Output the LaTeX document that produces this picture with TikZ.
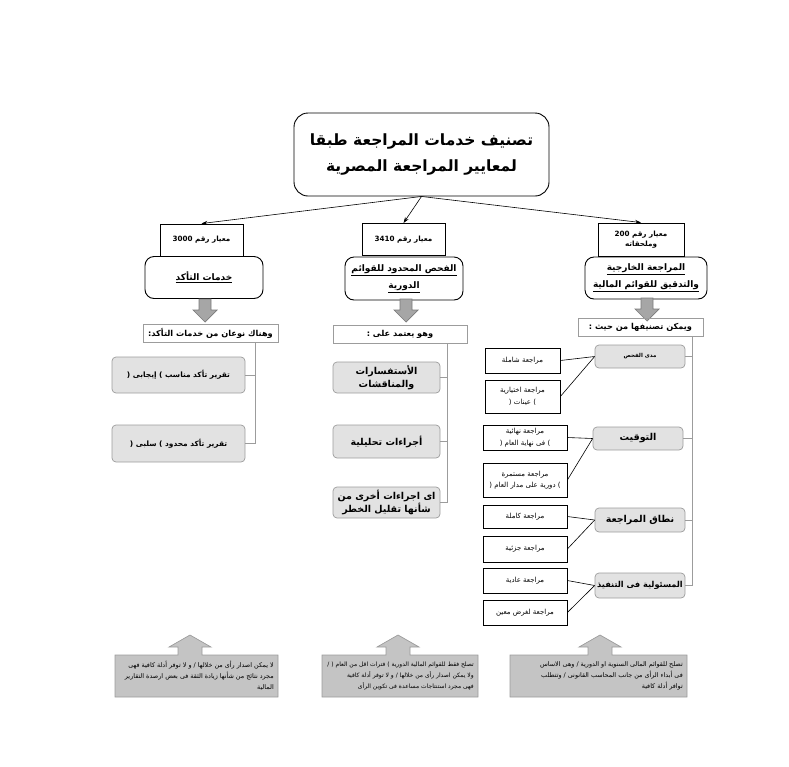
\documentclass[tikz,border=0pt]{standalone}
\usepackage{fontspec}
\newfontfamily\arabicfont[Script=Arabic]{DejaVu Sans}
\TeXXeTstate=1
\usetikzlibrary{arrows.meta}
\newcommand{\rl}[1]{\beginR #1\endR}
\newcommand{\fsz}[2]{\fontsize{#1}{#2}\selectfont}
\definecolor{boxgray}{HTML}{E2E2E2}
\definecolor{linegray}{HTML}{9C9C9C}
\definecolor{callgray}{HTML}{C4C4C4}
\definecolor{arrgray}{HTML}{A6A6A6}
\definecolor{arrline}{HTML}{7A7A7A}

\begin{document}
\begin{tikzpicture}[x=1pt, y=-1pt, >={Stealth[length=6pt,width=4pt]},
    every node/.style={font=\arabicfont\bfseries, inner sep=1pt, align=center},
    titlebox/.style={draw, line width=0.9pt, rounded corners=14pt, fill=white,
      minimum width=255pt, minimum height=83pt, font=\arabicfont\bfseries\fsz{15.5}{26}},
    stdbox/.style={draw, line width=0.9pt, minimum width=83pt, minimum height=32pt,
      font=\arabicfont\bfseries\fsz{7.2}{10}},
    headbox/.style={draw, line width=0.9pt, rounded corners=9pt, minimum width=118pt,
      minimum height=42pt, font=\arabicfont\bfseries\fsz{9}{17}},
    notebox/.style={draw=linegray, line width=0.7pt, minimum height=18pt,
      font=\arabicfont\bfseries\fsz{8.2}{10}},
    itembox/.style={draw=linegray, line width=0.7pt, fill=boxgray, rounded corners=4pt,
      font=\arabicfont\bfseries\fsz{7.4}{13}},
    leafbox/.style={draw, line width=0.7pt, minimum width=75pt,
      font=\arabicfont\fsz{7}{11.5}},
    callout/.style={draw=linegray, line width=0.7pt, fill=callgray},
    calltext/.style={anchor=east, align=right, font=\arabicfont\fsz{6.4}{11}},
    bigarrow/.style={draw=arrline, line width=0.7pt, fill=arrgray}]
  \useasboundingbox (0,0) rectangle (789,766);

  % title
  \node[titlebox] (title) at (421.5,154.5) {\rl{تصنيف خدمات المراجعة طبقا}\\\rl{لمعايير المراجعة المصرية}};

  % standards
  \node[stdbox] (std1) at (201.5,240) {\rl{معيار رقم 3000}};
  \node[stdbox] (std2) at (403.5,239.5) {\rl{معيار رقم 3410}};
  \node[stdbox, minimum width=86pt, minimum height=33pt] (std3) at (641,239.5) {\rl{معيار رقم 200}\\\rl{وملحقاته}};
  \draw[->, line width=0.6pt] (title.south) -- (std1.north);
  \draw[->, line width=0.6pt] (title.south) -- (std2.north);
  \draw[->, line width=0.6pt] (title.south) -- (std3.north);

  % services
  \node[headbox] (srv1) at (204,277.5) {\underline{\rl{خدمات التأكد}}};
  \node[headbox, minimum height=43pt] (srv2) at (404,278.5) {\underline{\rl{الفحص المحدود للقوائم}}\\\underline{\rl{الدورية}}};
  \node[headbox, minimum width=122pt] (srv3) at (646,278) {\underline{\rl{المراجعة الخارجية}}\\\underline{\rl{والتدقيق للقوائم المالية}}};

  \foreach \x/\y in {205/299, 406/299, 647/298}
    \filldraw[bigarrow] (\x-6,\y) -- (\x+6,\y) -- (\x+6,\y+11) -- (\x+12,\y+11)
      -- (\x,\y+23) -- (\x-12,\y+11) -- (\x-6,\y+11) -- cycle;

  \node[notebox, minimum width=135pt] (note1) at (210.5,333) {\rl{وهناك نوعان من خدمات التأكد:}};
  \node[notebox, minimum width=134pt] (note2) at (400,334) {\rl{وهو يعتمد على :}};
  \node[notebox, minimum width=125pt] (note3) at (640.5,327) {\rl{ويمكن تصنيفها من حيث :}};

  % assurance reports
  \node[itembox, minimum width=133pt, minimum height=36pt] (rep1) at (178.5,375) {\rl{تقرير تأكد مناسب ) إيجابى (}};
  \node[itembox, minimum width=133pt, minimum height=37pt] (rep2) at (178.5,443.5) {\rl{تقرير تأكد محدود ) سلبى (}};
  \coordinate (bus1) at (255,342);
  \draw[linegray, line width=0.7pt] (rep1.east) -| (bus1);
  \draw[linegray, line width=0.7pt] (rep2.east) -| (bus1);

  % review procedures
  \node[itembox, font=\arabicfont\bfseries\fsz{9.5}{13}, minimum width=107pt, minimum height=31pt] (proc1) at (386.5,377.5) {\rl{الأستفسارات}\\\rl{والمناقشات}};
  \node[itembox, font=\arabicfont\bfseries\fsz{9.5}{13}, minimum width=107pt, minimum height=33pt] (proc2) at (386.5,441.5) {\rl{أجراءات تحليلية}};
  \node[itembox, font=\arabicfont\bfseries\fsz{9.5}{13}, minimum width=107pt, minimum height=31pt] (proc3) at (386.5,502.5) {\rl{اى اجراءات أخرى من}\\\rl{شأنها تقليل الخطر}};
  \coordinate (bus2) at (447,343);
  \draw[linegray, line width=0.7pt] (proc1.east) -| (bus2);
  \draw[linegray, line width=0.7pt] (proc2.east) -| (bus2);
  \draw[linegray, line width=0.7pt] (proc3.east) -| (bus2);

  % audit classification
  \node[itembox, font=\arabicfont\bfseries\fsz{5.5}{8}, minimum width=90pt, minimum height=23pt] (cat1) at (640,356.5) {\rl{مدى الفحص}};
  \node[itembox, font=\arabicfont\bfseries\fsz{9.5}{12}, minimum width=90pt, minimum height=23pt] (cat2) at (638,438.5) {\rl{التوقيت}};
  \node[itembox, font=\arabicfont\bfseries\fsz{9.5}{12}, minimum width=90pt, minimum height=24pt] (cat3) at (640,520) {\rl{نطاق المراجعة}};
  \node[itembox, font=\arabicfont\bfseries\fsz{8.2}{12}, minimum width=90pt, minimum height=25pt] (cat4) at (640,585.5) {\rl{المسئولية فى التنفيذ}};
  \coordinate (bus3) at (692,336);
  \foreach \c in {cat1,cat2,cat3,cat4}
    \draw[linegray, line width=0.7pt] (\c.east) -| (bus3);

  \node[leafbox, minimum height=25pt] (lf1) at (522.5,360.5) {\rl{مراجعة شاملة}};
  \node[leafbox, minimum height=33pt] (lf2) at (522.5,396.5) {\rl{مراجعة اختيارية}\\\rl{) عينات (}};
  \node[leafbox, minimum width=84pt, minimum height=25pt] (lf3) at (525,437.5) {\rl{مراجعة نهائية}\\\rl{) فى نهاية العام (}};
  \node[leafbox, minimum width=84pt, minimum height=34pt] (lf4) at (525,480) {\rl{مراجعة مستمرة}\\\rl{) دورية على مدار العام (}};
  \node[leafbox, minimum width=84pt, minimum height=23pt] (lf5) at (525,516.5) {\rl{مراجعة كاملة}};
  \node[leafbox, minimum width=84pt, minimum height=26pt] (lf6) at (525,549) {\rl{مراجعة جزئية}};
  \node[leafbox, minimum width=84pt, minimum height=25pt] (lf7) at (525,580.5) {\rl{مراجعة عادية}};
  \node[leafbox, minimum width=84pt, minimum height=25pt] (lf8) at (525,612.5) {\rl{مراجعة لغرض معين}};
  \draw[line width=0.6pt] (cat1.west) -- (lf1.east);
  \draw[line width=0.6pt] (cat1.west) -- (lf2.east);
  \draw[line width=0.6pt] (cat2.west) -- (lf3.east);
  \draw[line width=0.6pt] (cat2.west) -- (lf4.east);
  \draw[line width=0.6pt] (cat3.west) -- (lf5.east);
  \draw[line width=0.6pt] (cat3.west) -- (lf6.east);
  \draw[line width=0.6pt] (cat4.west) -- (lf7.east);
  \draw[line width=0.6pt] (cat4.west) -- (lf8.east);

  % notes at the bottom
  \foreach \l/\a/\r in {115/190/278, 322/398/478, 510/600/687}
    \filldraw[callout] (\l,655) -- (\a-12,655) -- (\a-12,647) -- (\a-21,647) -- (\a,635)
      -- (\a+21,647) -- (\a+12,647) -- (\a+12,655) -- (\r,655) -- (\r,697) -- (\l,697) -- cycle;
  \node[calltext] (txt1) at (275,676) {\rl{لا يمكن اصدار رأى من خلالها / و لا توفر أدلة كافية فهى}\\\rl{مجرد نتائج من شأنها زيادة الثقة فى بعض ارصدة التقارير}\\\rl{المالية}};
  \node[calltext, font=\arabicfont\fsz{6}{11}] (txt2) at (475,676) {\rl{تصلح فقط للقوائم المالية الدورية ) فترات اقل من العام ( /}\\\rl{ولا يمكن اصدار رأى من خلالها / و لا توفر أدلة كافية}\\\rl{فهى مجرد استنتاجات مساعدة فى تكوين الرأى}};
  \node[calltext] (txt3) at (684,676) {\rl{تصلح للقوائم المالى السنوية او الدورية / وهى الاساس}\\\rl{فى أبداء الرأى من جانب المحاسب القانونى / وتتطلب}\\\rl{توافر أدلة كافية}};
\end{tikzpicture}
\end{document}
